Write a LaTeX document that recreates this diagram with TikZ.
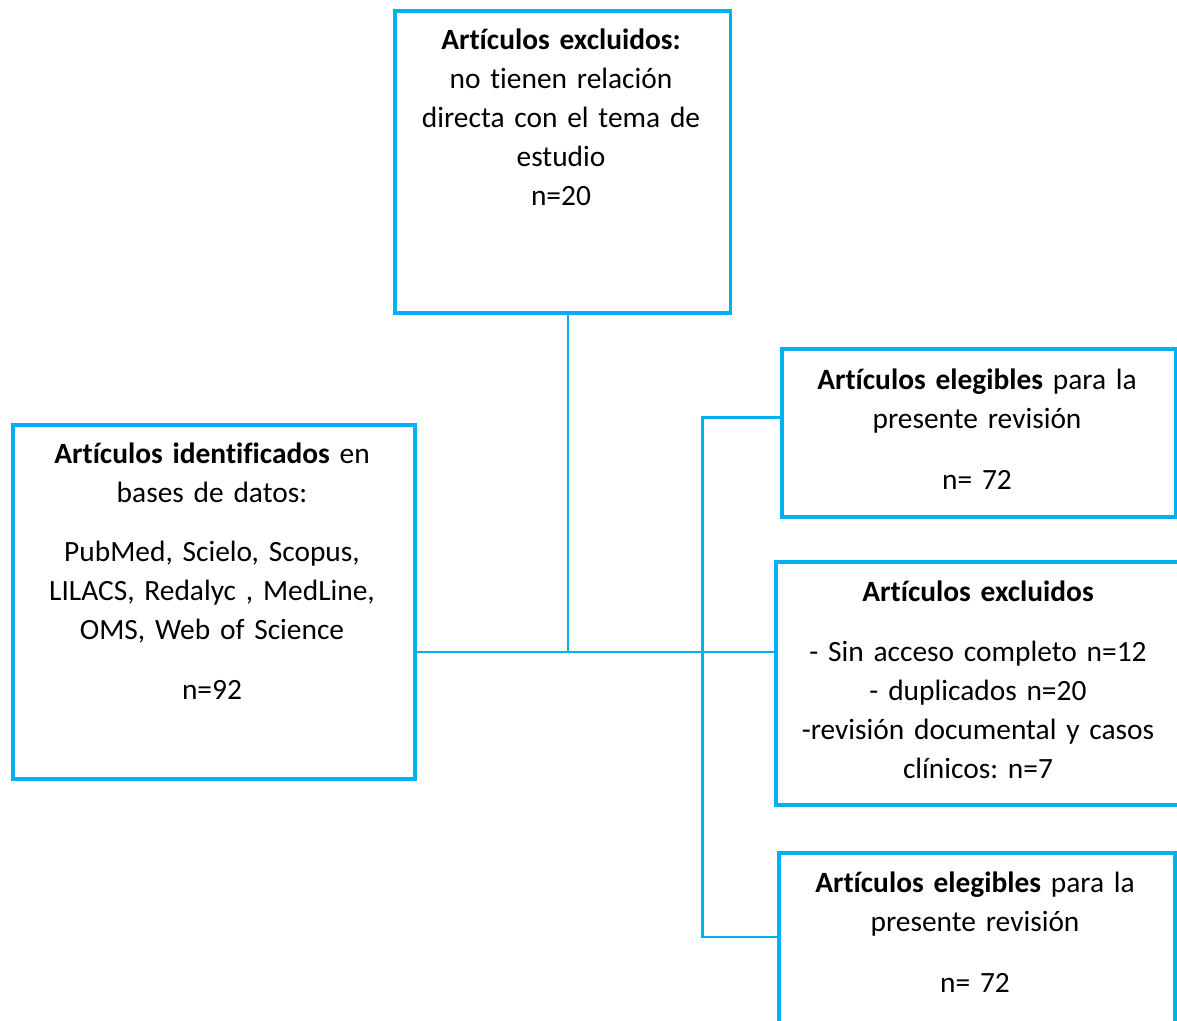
\documentclass[tikz,border=0pt]{standalone}
\usepackage{fontspec}
\setmainfont{Carlito}[Ligatures={NoCommon}]
\usepackage{tikz}
\usetikzlibrary{positioning, calc}
\definecolor{lineblue}{RGB}{0,176,240}
\frenchspacing

\begin{document}
\begin{tikzpicture}[x=0.5pt, y=-0.5pt,
  box/.style={draw=lineblue, line width=1.8pt, inner sep=0pt, anchor=north west},
  txt/.style={text width=190pt, align=center, anchor=base, inner sep=0pt, font=\fontsize{14.7}{19.5}\selectfont},
  link/.style={draw=lineblue, line width=1.15pt}]
\useasboundingbox (0,0) rectangle (1177,1021);
\clip (0,0) rectangle (1177,1021);

% Boxes
\node[box, minimum width=167.9pt, minimum height=151pt] (excl1) at (393,9) {};
\node[box, minimum width=201pt, minimum height=177.2pt] (ident) at (11,423) {};
\node[box, minimum width=197pt, minimum height=84pt] (elig1) at (780,347) {};
\node[box, minimum width=204pt, minimum height=121.6pt] (excl2) at (774,560) {};
\node[box, minimum width=198pt, minimum height=100pt] (elig2) at (777,851) {};

% Texts
\node[txt] (excl1txt) at (561,50) {\textbf{Artículos excluidos:}\\ no tienen relación\\ directa con el tema de\\ estudio\\ n=20};
\node[txt] (identtxt) at (212,463.5) {\textbf{Artículos identificados} en\\ bases de datos:\\[10pt] PubMed, Scielo, Scopus,\\ LILACS, Redalyc , MedLine,\\ OMS, Web of Science\\[10.5pt] n=92};
\node[txt] (elig1txt) at (977,390) {\textbf{Artículos elegibles} para la\\ presente revisión\\[11pt] n= 72};
\node[txt] (excl2txt) at (978,601.7) {\textbf{Artículos excluidos}\\[10.5pt] - Sin acceso completo n=12\\ - duplicados n=20\\ -revisión documental y casos\\ clínicos: n=7};
\node[txt] (elig2txt) at (975,892.3) {\textbf{Artículos elegibles} para la\\ presente revisión\\[11pt] n= 72};

% Connectors
\coordinate (j1) at (568,652);
\coordinate (j2) at (702.5,417.5);
\coordinate (j3) at (702.5,937);
\draw[link] (excl1.south -| j1) -- (j1);
\draw[link] (ident.east |- j1) -- (excl2.west |- j1);
\draw[link] (elig1.west |- j2) -- (j2) -- (j3) -- (elig2.west |- j3);
\end{tikzpicture}
\end{document}
